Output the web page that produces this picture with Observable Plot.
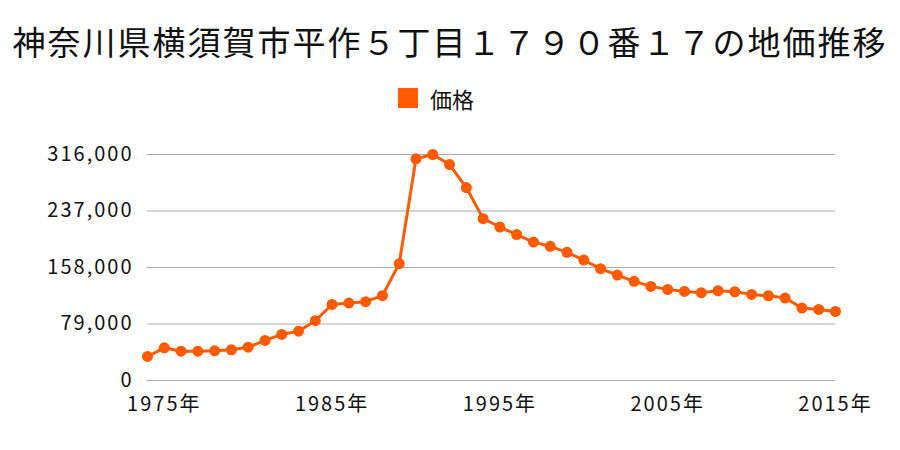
<!DOCTYPE html>
<html><head><meta charset="utf-8">
<script src="https://cdn.jsdelivr.net/npm/d3@7"></script>
<script src="https://cdn.jsdelivr.net/npm/@observablehq/plot@0.6"></script>
<style>
body{margin:0;background:#fff;font-family:"Noto Sans CJK JP","Noto Sans",sans-serif;width:900px;height:450px;overflow:hidden}
#title{height:80px;line-height:82px;text-align:center;font-size:33px;letter-spacing:2px;color:#111;white-space:nowrap}
#legend{height:40px;display:flex;align-items:center;justify-content:center;font-size:22px;color:#111;margin-top:-2px;margin-bottom:2px}
#legend span.sw{display:inline-block;width:20px;height:20px;background:#ff5a00;margin-right:12px;margin-left:-28px}
</style></head><body>
<div id="title">神奈川県横須賀市平作５丁目１７９０番１７の地価推移</div>
<div id="legend"><span class="sw"></span><span>価格</span></div>
<div id="chart"></div>
<script>
const years = [1974,1975,1976,1977,1978,1979,1980,1981,1982,1983,1984,1985,1986,1987,1988,1989,1990,1991,1992,1993,1994,1995,1996,1997,1998,1999,2000,2001,2002,2003,2004,2005,2006,2007,2008,2009,2010,2011,2012,2013,2014,2015];
const prices = [33600,45700,41000,41000,41500,43000,46600,56000,64400,69000,83600,106400,108200,110200,118600,163400,310000,316000,302000,269800,226300,214600,204000,193600,187600,179200,168400,156400,147400,138600,131600,127400,124600,122800,125500,124100,120400,118500,115300,101300,99400,96600];
const yTicks = [0,79000,158000,237000,316000];
const xTicks = [1975,1985,1995,2005,2015];
const data = years.map((y,i)=>({year:y, price:prices[i]}));
const color = "#ff5a00";
const chart = Plot.plot({
  width: 900, height: 330,
  marginLeft: 147, marginRight: 65, marginTop: 34, marginBottom: 70,
  style: {fontFamily: '"Noto Sans CJK JP","Noto Sans",sans-serif', fontSize: "20px", letterSpacing: "2px", color: "#111", background: "#fff"},
  x: {domain: [1974, 2015], ticks: xTicks, tickFormat: d => d + "年", tickSize: 0, tickPadding: 16, label: null},
  y: {domain: [0, 316000], ticks: yTicks, tickFormat: d => d3.format(",")(d), tickSize: 0, tickPadding: 14, label: null},
  marks: [
    Plot.ruleY(yTicks, {stroke: "#aaa", strokeWidth: 1}),
    Plot.line(data, {x: "year", y: "price", stroke: color, strokeWidth: 3}),
    Plot.dot(data, {x: "year", y: "price", fill: color, r: 5.5})
  ]
});
document.getElementById("chart").appendChild(chart);
</script>
</body></html>
